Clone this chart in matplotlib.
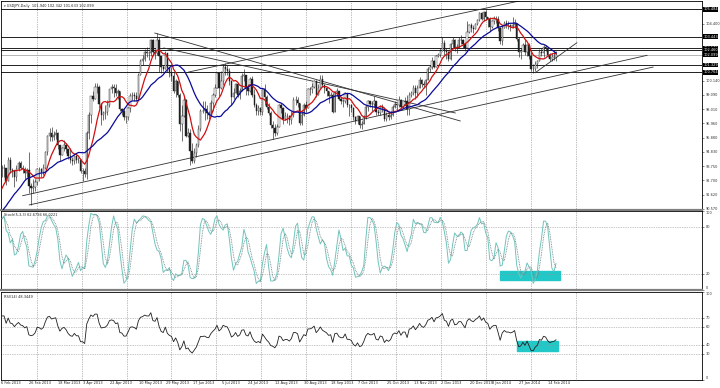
import matplotlib
matplotlib.use("Agg")
import matplotlib.pyplot as plt
from matplotlib.patches import Rectangle
import numpy as np
import pandas as pd

# USDJPY daily, 6 Feb 2013 - 19 Feb 2014
# a few January 2013 sessions first, only used to warm up the indicators
warm_close = [88.0, 87.2, 87.8, 88.8, 89.2, 89.1, 88.6, 88.3, 90.0, 90.1, 89.5,
              88.7, 88.6, 90.3, 90.8, 91.0, 90.7, 91.0, 91.7, 92.7, 92.3, 93.6]
warm_high = [88.4, 87.9, 87.9, 89.0, 89.3, 89.7, 89.0, 88.6, 90.1, 90.2, 90.1,
             90.2, 89.0, 90.6, 91.0, 91.2, 91.1, 91.2, 91.8, 92.8, 92.9, 93.6]
warm_low = [87.8, 86.8, 87.0, 87.6, 88.6, 88.8, 87.8, 87.7, 88.3, 89.3, 89.1,
            88.1, 88.1, 88.6, 90.1, 90.3, 90.4, 90.6, 90.9, 91.5, 92.1, 92.2]

close = [
    # Feb 2013
    93.6, 93.6, 92.65, 94.2, 93.45, 93.35, 92.9, 93.5, 93.95, 93.6, 93.5, 93.2, 93.45, 92.25, 92.1, 92.2, 92.55,
    # Mar
    93.55, 93.5, 93.3, 93.6, 94.8, 96.0, 96.2, 95.9, 96.1, 96.2, 95.3, 94.6, 95.1, 95.3, 95.0, 94.5, 94.2, 94.1, 94.5, 94.2, 94.2,
    # Apr
    93.4, 93.4, 93.15, 96.2, 97.55, 99.0, 98.8, 99.7, 99.7, 98.4, 97.6, 97.7, 97.8, 98.3, 99.5, 99.7, 99.6, 99.2, 99.4, 98.0, 97.9, 97.4,
    # May
    97.4, 98.1, 99.0, 99.1, 99.0, 98.8, 100.6, 101.6, 101.8, 102.3, 102.2, 102.2, 103.2, 102.3, 102.2, 103.2, 102.0, 101.2, 101.0, 102.2, 101.1, 100.7, 100.5,
    # Jun
    99.4, 100.1, 99.1, 96.9, 97.5, 98.7, 96.0, 96.2, 94.9, 94.1, 94.7, 95.3, 96.5, 97.9, 97.9, 98.0, 97.7, 97.6, 98.5, 99.1,
    # Jul
    99.6, 100.7, 99.6, 100.1, 101.2, 101.0, 100.9, 100.1, 98.9, 99.2, 99.9, 99.1, 99.4, 100.5, 100.6, 99.6, 99.4, 100.3, 99.1, 98.3, 97.9, 98.1, 97.8,
    # Aug
    99.5, 98.9, 98.2, 97.7, 96.8, 96.6, 96.2, 96.7, 98.3, 98.1, 97.3, 97.5, 97.5, 97.2, 97.6, 98.7, 98.7, 98.5, 97.0, 97.6, 98.3, 98.1,
    # Sep
    99.5, 99.5, 99.7, 100.1, 99.1, 99.6, 100.3, 99.8, 99.6, 99.4, 99.0, 99.1, 97.8, 99.3, 99.4, 98.8, 98.6, 98.6, 99.2, 98.3, 98.3,
    # Oct
    98.1, 97.4, 97.1, 97.5, 96.8, 96.9, 97.4, 98.2, 98.6, 98.4, 98.4, 98.6, 97.8, 97.7, 98.2, 98.1, 97.3, 97.6, 97.4, 97.6, 98.2, 98.4, 98.3,
    # Nov
    98.7, 98.2, 98.6, 98.6, 98.0, 99.1, 99.2, 99.6, 99.2, 99.6, 100.2, 99.9, 99.8, 100.2, 101.0, 101.2, 101.6, 101.2, 102.0, 102.1, 102.4,
    # Dec
    103.0, 102.4, 102.3, 101.8, 102.9, 103.2, 102.6, 102.7, 103.2, 103.2, 102.9, 102.6, 103.8, 104.3, 104.1, 104.0, 104.4, 104.7, 105.2, 104.8, 105.3,
    # Jan 2014
    104.9, 104.8, 104.2, 104.6, 104.8, 104.8, 104.1, 103.1, 104.1, 104.5, 104.3, 104.3, 104.2, 104.3, 104.5, 103.3, 102.3, 102.4, 102.8, 102.3, 102.8, 102.0,
    # Feb 2014
    101.0, 101.0, 101.4, 101.6, 102.3, 102.2, 102.7, 102.6, 102.1, 101.8, 101.9, 101.94, 102.099,
]
high = [
    93.8, 93.9, 93.6, 94.45, 94.4, 93.6, 93.4, 93.8, 94.1, 94.1, 93.8, 93.7, 93.6, 94.77, 92.5, 92.8, 92.8,
    93.6, 93.7, 93.6, 93.9, 94.9, 96.1, 96.6, 96.7, 96.4, 96.5, 96.3, 95.0, 95.2, 95.7, 95.5, 95.0, 95.1, 94.4, 94.6, 94.7, 94.4,
    94.3, 93.6, 93.6, 96.4, 97.8, 99.0, 99.4, 99.95, 99.95, 99.8, 98.5, 97.9, 98.3, 98.7, 99.5, 99.9, 99.9, 99.9, 99.5, 99.3, 98.1, 98.1,
    97.5, 98.2, 99.2, 99.3, 99.3, 99.3, 100.7, 101.8, 102.1, 102.5, 102.7, 102.4, 103.3, 103.3, 102.5, 103.74, 103.4, 101.7, 101.3, 102.4, 102.2, 101.1, 101.2,
    100.8, 100.3, 100.1, 99.2, 98.3, 99.0, 98.8, 96.6, 96.5, 95.5, 95.1, 95.5, 96.8, 98.0, 98.6, 98.6, 98.3, 97.9, 98.7, 99.2,
    99.9, 100.8, 100.8, 100.9, 101.3, 101.5, 101.3, 101.1, 100.2, 99.6, 100.0, 100.0, 99.6, 100.7, 101.0, 100.4, 99.9, 100.4, 100.5, 99.5, 98.5, 98.3, 98.2,
    99.6, 99.9, 99.1, 98.5, 97.9, 97.1, 96.9, 96.9, 98.4, 98.5, 98.2, 97.8, 97.7, 97.6, 97.9, 98.9, 99.0, 98.9, 98.5, 97.9, 98.5, 98.6,
    99.6, 99.7, 100.0, 100.2, 100.2, 99.9, 100.6, 100.6, 99.9, 99.7, 99.2, 99.3, 99.2, 99.4, 99.6, 99.4, 98.9, 98.8, 99.3, 99.2, 98.4,
    98.4, 98.2, 97.5, 97.6, 97.4, 97.1, 97.6, 98.3, 98.7, 98.6, 98.6, 99.0, 98.6, 98.0, 98.3, 98.4, 98.2, 97.8, 97.8, 97.9, 98.3, 98.6, 98.4,
    99.0, 98.8, 98.7, 98.9, 99.1, 99.3, 99.4, 99.8, 99.8, 99.8, 100.4, 100.3, 100.1, 100.3, 101.2, 101.3, 101.9, 101.7, 102.1, 102.2, 102.6,
    103.4, 103.2, 102.6, 102.4, 103.0, 103.4, 103.3, 102.9, 103.4, 103.6, 103.3, 103.0, 104.6, 104.4, 104.5, 104.3, 104.5, 104.8, 105.3, 105.3, 105.4,
    105.44, 104.9, 104.9, 104.7, 105.0, 105.0, 105.0, 104.2, 104.3, 104.6, 104.7, 104.6, 104.4, 104.9, 104.8, 104.5, 103.4, 102.6, 103.0, 103.3, 102.9, 103.0,
    102.3, 101.4, 101.6, 101.7, 102.5, 102.6, 102.8, 102.8, 102.6, 102.2, 102.2, 102.4, 102.342,
]
low = [
    92.9, 92.9, 92.3, 92.8, 93.2, 92.9, 92.2, 92.6, 93.4, 93.5, 93.2, 92.8, 92.9, 91.7, 90.85, 91.7, 91.9,
    92.3, 92.6, 92.9, 93.1, 93.5, 94.6, 95.6, 95.6, 95.7, 95.8, 95.0, 94.1, 94.6, 94.9, 94.7, 94.3, 94.0, 93.8, 93.9, 94.0, 94.0,
    93.2, 92.6, 92.9, 92.8, 95.8, 97.0, 98.6, 98.9, 99.2, 98.1, 96.8, 97.2, 97.3, 97.6, 98.2, 99.2, 98.9, 99.0, 98.8, 97.9, 97.6, 97.2,
    97.0, 97.2, 97.8, 98.7, 98.6, 98.6, 98.7, 100.6, 101.3, 101.6, 101.9, 101.7, 102.0, 102.0, 101.8, 102.1, 100.8, 100.7, 100.9, 101.0, 100.8, 100.4, 100.1,
    99.2, 98.9, 98.9, 96.4, 95.6, 97.4, 95.9, 95.9, 93.8, 94.0, 94.0, 94.4, 95.2, 96.4, 97.7, 97.2, 97.3, 97.3, 97.5, 97.9,
    98.9, 99.6, 99.0, 99.5, 99.8, 100.6, 100.6, 99.8, 98.3, 98.8, 99.3, 98.9, 98.8, 99.4, 100.1, 99.1, 99.1, 99.3, 98.9, 98.2, 97.6, 97.6, 97.6,
    97.6, 98.3, 98.0, 97.6, 96.6, 95.8, 96.0, 96.1, 96.7, 97.7, 96.9, 97.2, 97.0, 96.8, 96.9, 97.4, 98.3, 98.2, 96.8, 96.8, 97.5, 97.8,
    98.4, 99.1, 99.2, 99.6, 98.9, 99.3, 99.6, 99.7, 99.2, 99.0, 98.5, 98.9, 97.7, 97.8, 99.0, 98.7, 98.4, 98.2, 98.5, 98.2, 97.5,
    97.8, 97.2, 96.9, 96.9, 96.6, 96.56, 96.9, 97.3, 97.9, 98.2, 97.9, 98.2, 97.6, 97.6, 97.6, 97.8, 97.1, 97.1, 97.2, 97.3, 97.5, 98.1, 97.9,
    98.2, 98.1, 98.1, 98.4, 97.6, 97.6, 98.9, 99.1, 98.8, 98.9, 99.6, 99.7, 99.6, 99.1, 100.2, 100.8, 101.0, 101.1, 101.2, 101.9, 101.9,
    102.4, 102.1, 101.8, 101.6, 101.7, 102.6, 102.4, 102.2, 102.6, 102.9, 102.6, 102.4, 102.5, 103.7, 103.8, 103.7, 104.0, 104.3, 104.6, 104.7, 104.6,
    104.7, 104.2, 103.9, 104.1, 104.4, 104.5, 103.9, 102.9, 102.8, 104.1, 104.1, 104.0, 103.9, 104.1, 104.1, 103.1, 101.9, 101.8, 102.4, 102.1, 102.0, 101.8,
    100.9, 100.76, 100.9, 101.1, 101.6, 102.0, 101.9, 102.4, 101.9, 101.6, 101.6, 101.7, 101.633,
]

date_labels = ["6 Feb 2013", "26 Feb 2013", "18 Mar 2013", "3 Apr 2013", "22 Apr 2013",
               "10 May 2013", "29 May 2013", "17 Jun 2013", "5 Jul 2013", "24 Jul 2013",
               "12 Aug 2013", "30 Aug 2013", "18 Sep 2013", "7 Oct 2013", "25 Oct 2013",
               "13 Nov 2013", "2 Dec 2013", "20 Dec 2013", "8 Jan 2014", "27 Jan 2014",
               "14 Feb 2014"]
date_bar = [0, 14, 28, 40, 53, 67, 80, 93, 107, 120, 133, 147, 160, 173, 187, 200,
            213, 227, 238, 251, 265]

# right-hand scale (the ones under the marked levels are hidden there)
price_ticks = [90.570, 91.620, 92.700, 93.750, 94.830, 95.880, 96.960, 98.010,
               99.090, 100.140, 104.400]
levels = [105.484, 103.443, 102.570, 102.460, 101.329, 100.764]
bid = 102.099

# trend lines drawn on the chart: (bar, price) -> (bar, price)
trendlines = [
    ((73.9, 103.72), (221.7, 97.13)),
    ((78.3, 102.60), (219.3, 97.73)),
    ((90.3, 100.80), (255.6, 106.30)),
    ((10.0, 91.53), (312.1, 102.05)),
    ((13.2, 90.84), (315.0, 101.17)),
    ((258.0, 100.75), (278.1, 102.99)),
]
stoch_box = (241, 270, 12.7, 24.4)
rsi_box = (249.3, 269, 33.3, 44.7)

# ---------------------------------------------------------------
W, H = 720, 388
n = len(close)
nw = len(warm_close)
c_all = pd.Series(warm_close + close)
h_all = pd.Series(warm_high + high)
l_all = pd.Series(warm_low + low)

c = np.array(close)
o = np.concatenate([[warm_close[-1]], c[:-1]])
hi = np.maximum.reduce([np.array(high), o, c])
lo = np.minimum.reduce([np.array(low), o, c])
x = np.arange(n)

ma_red = c_all.rolling(8).mean().values[nw:]
ma_blue = c_all.rolling(21).mean().values[nw:]

ll = l_all.rolling(5).min()
hh = h_all.rolling(5).max()
k = (c_all - ll).rolling(3).sum() / (hh - ll).rolling(3).sum() * 100
d = k.rolling(3).mean()
k = k.values[nw:]
d = d.values[nw:]

# RSI(14), Wilder smoothing seeded with a plain average
delta = np.diff(np.array(warm_close + close))
g = np.clip(delta, 0, None)
l_ = np.clip(-delta, 0, None)
ag = np.full(len(delta), np.nan)
al = np.full(len(delta), np.nan)
ag[13] = g[:14].mean()
al[13] = l_[:14].mean()
for i in range(14, len(delta)):
    ag[i] = (ag[i - 1] * 13 + g[i]) / 14
    al[i] = (al[i - 1] * 13 + l_[i]) / 14
rsi = 100 - 100 / (1 + ag / al)
rsi = np.concatenate([[np.nan], rsi])[nw:]

fs = 2.5
px_per_bar = 2.07
x_left = -1 / px_per_bar
x_right = (702 - 1) / px_per_bar
grid_x = (35.7 + 45 * np.arange(13) - 1) / px_per_bar


def box(top, bottom):
    return [1 / W, 1 - bottom / H, 701 / W, (bottom - top) / H]


fig = plt.figure(figsize=(W / 100, H / 100), dpi=100)
ax = fig.add_axes(box(1, 210))
ax_st = fig.add_axes(box(211, 290))
ax_rsi = fig.add_axes(box(292, 380))

for a in (ax, ax_st, ax_rsi):
    a.set_xlim(x_left, x_right)
    a.set_xticks([])
    a.yaxis.tick_right()
    a.tick_params(axis="y", labelsize=fs, length=1.5, width=0.4, pad=1, colors="#303030")
    for s in a.spines.values():
        s.set_linewidth(0.6)
        s.set_color("black")
    for gx in grid_x:
        a.axvline(gx, color="#808080", lw=0.5, ls=(0, (1, 1.5)), zorder=0)

ax.spines["bottom"].set_color("#808080")
ax.spines["bottom"].set_linewidth(1.6)
ax_st.spines["bottom"].set_color("#808080")
ax_st.spines["bottom"].set_linewidth(1.6)

# main price panel
ax.set_ylim(90.46, 106.12)
ax.set_yticks(price_ticks)
ax.set_yticklabels([f"{p:.3f}" for p in price_ticks])

for lv in levels:
    ax.axhline(lv, color="#202020", lw=0.7, zorder=1)
ax.axhline(bid, color="#a8a8a8", lw=0.6, zorder=1)

for (x0, p0), (x1, p1) in trendlines:
    ax.plot([x0, x1], [p0, p1], color="#303030", lw=0.6, zorder=2)

up = c >= o
ax.vlines(x, lo, hi, color="#202020", lw=0.45, zorder=3)
ax.bar(x[up], (c - o)[up], bottom=o[up], width=0.65, color="white",
       edgecolor="#202020", linewidth=0.3, zorder=4)
ax.bar(x[~up], (o - c)[~up], bottom=c[~up], width=0.65, color="#202020",
       edgecolor="#202020", linewidth=0.3, zorder=4)

ax.plot(x, ma_red, color="#d01010", lw=0.9, zorder=5)
ax.plot(x, ma_blue, color="#0a0a9a", lw=0.9, zorder=5)

for lv in levels + [bid]:
    ax.text(1.002, lv, f"{lv:.3f}", transform=ax.get_yaxis_transform(), fontsize=fs,
            color="white", va="center", ha="left", clip_on=False, zorder=10,
            bbox=dict(fc="black", ec="none", pad=0.25))

ax.text(0.004, 0.985, "\u25BE USDJPY,Daily  101.940 102.342 101.633 102.099",
        transform=ax.transAxes, fontsize=fs, va="top", ha="left", color="#202020")

# stochastic panel
ax_st.set_ylim(0, 100)
ax_st.set_yticks([0, 20, 80, 100])
ax_st.set_yticklabels(["0", "20", "80", "100"])
for lab, va in zip(ax_st.get_yticklabels(), ["bottom", "center", "center", "top"]):
    lab.set_va(va)
for lv in (20, 80):
    ax_st.axhline(lv, color="#909090", lw=0.5, ls=(0, (1, 1.5)))
ax_st.add_patch(Rectangle((stoch_box[0], stoch_box[2]), stoch_box[1] - stoch_box[0],
                          stoch_box[3] - stoch_box[2], color="#22c8c8", zorder=1))
ax_st.plot(x, k, color="#70c4bc", lw=0.7, zorder=3)
ax_st.plot(x, d, color="#6a7f7f", lw=0.6, ls=(0, (1, 1)), zorder=3)
ax_st.text(0.004, 0.97, "Stoch(5,3,3) 62.6794 66.0221", transform=ax_st.transAxes,
           fontsize=fs, va="top", ha="left", color="#202020")

# RSI panel
ax_rsi.set_ylim(0, 100)
ax_rsi.set_yticks([0, 30, 40, 60, 70, 100])
ax_rsi.set_yticklabels(["0", "30", "40", "60", "70", "100"])
for lab, va in zip(ax_rsi.get_yticklabels(), ["bottom", "center", "center", "center", "center", "top"]):
    lab.set_va(va)
for lv in (30, 40, 60, 70):
    ax_rsi.axhline(lv, color="#909090", lw=0.5, ls=(0, (1, 1.5)))
ax_rsi.add_patch(Rectangle((rsi_box[0], rsi_box[2]), rsi_box[1] - rsi_box[0],
                           rsi_box[3] - rsi_box[2], color="#22c8c8", zorder=1))
ax_rsi.plot(x, rsi, color="#202020", lw=0.6, zorder=3)
ax_rsi.text(0.004, 0.97, "RSI(14) 48.3449", transform=ax_rsi.transAxes,
            fontsize=fs, va="top", ha="left", color="#202020")

for lab, b in zip(date_labels, date_bar):
    ax_rsi.text(max(b - 0.8, x_left + 0.2), -0.015, lab, transform=ax_rsi.get_xaxis_transform(),
                fontsize=fs, va="top", ha="left", color="#202020")

fig.savefig("out.png", dpi=100, facecolor="white")
